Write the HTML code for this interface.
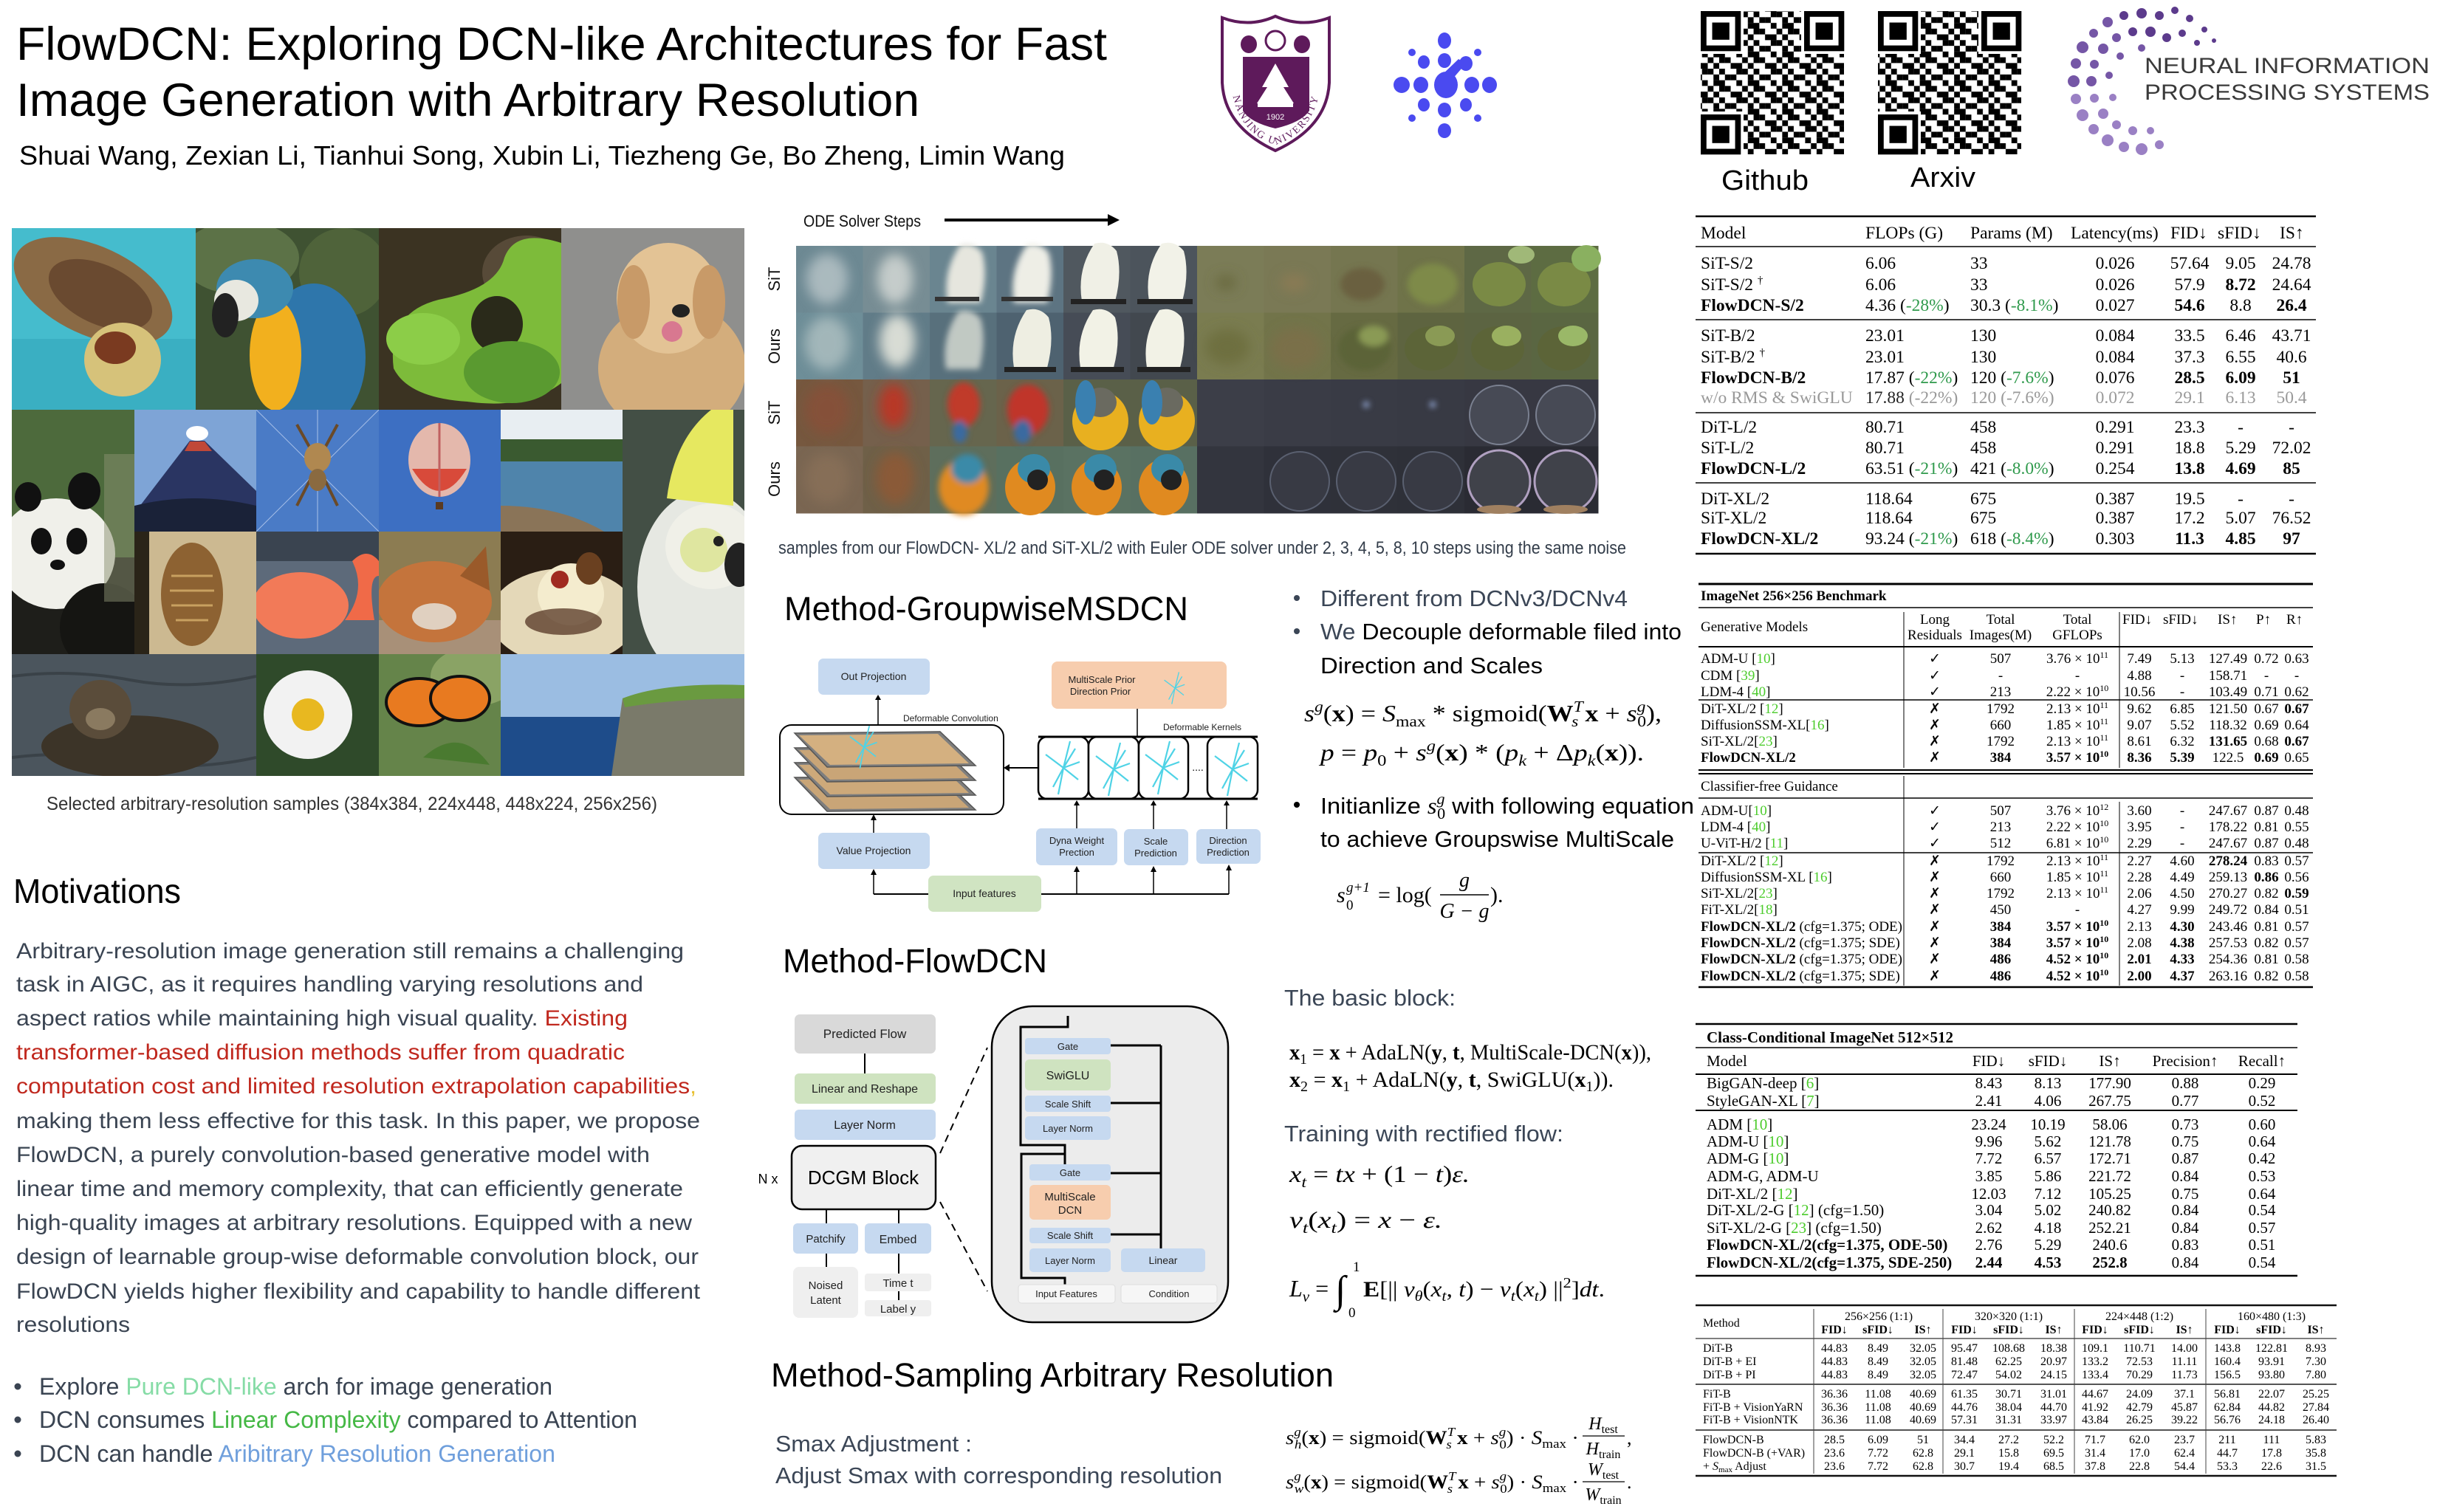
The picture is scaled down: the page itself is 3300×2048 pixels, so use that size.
<!DOCTYPE html>
<html><head><meta charset="utf-8">
<style>
html,body{margin:0;padding:0;background:#fff;}
svg{display:block;}
.s{font-family:"Liberation Sans",Arial,"DejaVu Sans",sans-serif;}
.t{font-family:"Liberation Serif","Times New Roman","DejaVu Serif",serif;}
</style></head><body>
<svg width="3300" height="2048" viewBox="0 0 3300 2048" xmlns="http://www.w3.org/2000/svg">
<defs>
<filter id="b8" x="-50%" y="-50%" width="200%" height="200%"><feGaussianBlur stdDeviation="8"/></filter>
<filter id="b4" x="-50%" y="-50%" width="200%" height="200%"><feGaussianBlur stdDeviation="4"/></filter>
<pattern id="qr" x="0" y="0" width="46.56" height="38.8" patternUnits="userSpaceOnUse">
<rect width="46.56" height="38.8" fill="#fff"/>
<g fill="#000">
<rect x="0" y="0" width="7.8" height="7.8"/><rect x="7.76" y="0" width="7.8" height="7.8"/><rect x="31.04" y="0" width="7.8" height="7.8"/>
<rect x="15.52" y="7.76" width="7.8" height="7.8"/><rect x="23.28" y="7.76" width="7.8" height="7.8"/><rect x="38.8" y="7.76" width="7.8" height="7.8"/>
<rect x="0" y="15.52" width="7.8" height="7.8"/><rect x="23.28" y="15.52" width="7.8" height="7.8"/><rect x="31.04" y="15.52" width="7.8" height="7.8"/>
<rect x="7.76" y="23.28" width="7.8" height="7.8"/><rect x="15.52" y="23.28" width="7.8" height="7.8"/><rect x="38.8" y="23.28" width="7.8" height="7.8"/>
<rect x="0" y="31.04" width="7.8" height="7.8"/><rect x="23.28" y="31.04" width="7.8" height="7.8"/><rect x="38.8" y="31.04" width="7.8" height="7.8"/>
</g>
</pattern>
<g id="finder">
<rect x="-4" y="-4" width="62" height="62" fill="#fff"/>
<rect x="0" y="0" width="54.3" height="54.3" fill="#000"/>
<rect x="7.76" y="7.76" width="38.8" height="38.8" fill="#fff"/>
<rect x="15.52" y="15.52" width="23.3" height="23.3" fill="#000"/>
</g>
<g id="kstar" stroke="#4fd3e6" stroke-width="2.2" fill="none">
<line x1="0" y1="0" x2="9" y2="-36"/><line x1="0" y1="0" x2="-7" y2="36"/>
<line x1="0" y1="0" x2="-24" y2="-18"/><line x1="0" y1="0" x2="20" y2="16"/>
<line x1="0" y1="0" x2="16" y2="-26"/><line x1="0" y1="0" x2="-14" y2="26"/>
<line x1="0" y1="0" x2="22" y2="-8"/>
</g>
<path id="fan" d="M-25,38 Q-32,-5 -8,-40 Q10,-45 22,-30 Q30,0 20,38 Z"/>
</defs>
<rect width="3300" height="2048" fill="#fff"/>

<!-- ===== HEADER ===== -->
<g class="s" fill="#000">
<text x="22" y="81" font-size="63" textLength="1477" lengthAdjust="spacingAndGlyphs">FlowDCN: Exploring DCN-like Architectures for Fast</text>
<text x="22" y="157" font-size="63" textLength="1223" lengthAdjust="spacingAndGlyphs">Image Generation with Arbitrary Resolution</text>
<text x="26" y="223" font-size="36" textLength="1416" lengthAdjust="spacingAndGlyphs">Shuai Wang, Zexian Li, Tianhui Song, Xubin Li, Tiezheng Ge, Bo Zheng, Limin Wang</text>
</g>

<!-- NJU logo -->
<path d="M1655,24 Q1692,38 1727,22 Q1763,38 1800,24 L1800,112 Q1797,172 1727,204 Q1658,172 1655,112 Z" fill="#fff" stroke="#5e1a5b" stroke-width="4"/>
<path d="M1683,77 L1773,77 L1773,150 Q1762,166 1727,174 Q1693,166 1683,150 Z" fill="#5e1a5b"/>
<path d="M1727,86 L1745,118 L1738,118 L1752,140 L1702,140 L1716,118 L1709,118 Z" fill="#fff"/>
<rect x="1703" y="140" width="48" height="5" fill="#fff"/>
<text x="1727" y="162" font-size="11" fill="#fff" text-anchor="middle" class="s">1902</text>
<ellipse cx="1727" cy="55" rx="13" ry="13" fill="none" stroke="#5e1a5b" stroke-width="3"/>
<ellipse cx="1691" cy="60" rx="11" ry="12" fill="#5e1a5b"/>
<ellipse cx="1763" cy="60" rx="11" ry="12" fill="#5e1a5b"/>
<path id="njup" d="M1666,98 Q1668,178 1727,196 Q1786,178 1790,98" fill="none"/>
<text class="t" font-size="14" fill="#5e1a5b" letter-spacing="2"><textPath href="#njup" startOffset="50%" text-anchor="middle">NANJING UNIVERSITY</textPath></text>

<!-- blue logo -->
<g fill="#4a4af0">
<ellipse cx="1958" cy="115" rx="16" ry="18"/>
<ellipse cx="1956" cy="55" rx="9" ry="11"/><ellipse cx="1956" cy="82" rx="9" ry="10"/>
<ellipse cx="1956" cy="149" rx="9" ry="10"/><ellipse cx="1956" cy="177" rx="9" ry="10"/>
<ellipse cx="1898" cy="115" rx="11" ry="11"/><ellipse cx="1924" cy="115" rx="10" ry="11"/>
<ellipse cx="1993" cy="115" rx="10" ry="11"/><ellipse cx="2017" cy="115" rx="10" ry="11"/>
<ellipse cx="1928" cy="84" rx="8" ry="9"/><ellipse cx="1985" cy="86" rx="9" ry="10"/>
<ellipse cx="1928" cy="142" rx="8" ry="9"/><ellipse cx="1985" cy="142" rx="8" ry="9"/>
<path d="M1985,86 L1966,108 L1950,104 L1975,80 Z"/>
<circle cx="1912" cy="71" r="5"/><circle cx="2001" cy="71" r="5"/>
<circle cx="1912" cy="160" r="5"/><circle cx="2001" cy="160" r="5"/>
</g>

<!-- QR codes -->
<rect x="2303" y="15" width="194" height="194" fill="url(#qr)"/>
<use href="#finder" x="2303" y="15"/><use href="#finder" x="2443" y="15"/><use href="#finder" x="2303" y="155"/>
<rect x="2543" y="15" width="194" height="194" fill="url(#qr)"/>
<use href="#finder" x="2543" y="15"/><use href="#finder" x="2683" y="15"/><use href="#finder" x="2543" y="155"/>
<text x="2331" y="257" class="s" font-size="38" textLength="118" lengthAdjust="spacingAndGlyphs">Github</text>
<text x="2587" y="253" class="s" font-size="38" textLength="88" lengthAdjust="spacingAndGlyphs">Arxiv</text>

<!-- NeurIPS -->
<g>
<g fill="#5c3b8c">
<circle cx="2924" cy="21" r="6"/><circle cx="2900" cy="18" r="7"/><circle cx="2876" cy="21" r="6"/>
<circle cx="2945" cy="14" r="5"/><circle cx="2965" cy="25" r="5"/><circle cx="2985" cy="40" r="4"/><circle cx="2998" cy="55" r="3"/>
<circle cx="2955" cy="45" r="5"/><circle cx="2975" cy="58" r="4"/><circle cx="2934" cy="51" r="6"/><circle cx="2912" cy="43" r="7"/><circle cx="2888" cy="43" r="6"/>
</g>
<g fill="#7556a6">
<circle cx="2854" cy="30" r="7"/><circle cx="2835" cy="45" r="6"/><circle cx="2820" cy="64" r="8"/><circle cx="2811" cy="86" r="7"/><circle cx="2808" cy="110" r="8"/>
<circle cx="2866" cy="51" r="6"/><circle cx="2848" cy="66" r="7"/><circle cx="2836" cy="87" r="6"/><circle cx="2832" cy="110" r="7"/>
<circle cx="2900" cy="65" r="5"/><circle cx="2871" cy="76" r="5"/><circle cx="2856" cy="102" r="5"/>
</g>
<g fill="#9a80c4">
<circle cx="2811" cy="134" r="7"/><circle cx="2820" cy="156" r="8"/><circle cx="2835" cy="175" r="7"/><circle cx="2854" cy="190" r="8"/><circle cx="2876" cy="199" r="7"/><circle cx="2900" cy="202" r="8"/><circle cx="2924" cy="196" r="6"/>
<circle cx="2836" cy="133" r="6"/><circle cx="2848" cy="154" r="7"/><circle cx="2866" cy="169" r="6"/><circle cx="2888" cy="177" r="6"/><circle cx="2912" cy="177" r="5"/><circle cx="2861" cy="132" r="5"/>
</g>
<text x="2904" y="99" class="s" font-size="30" fill="#3a3a3a" textLength="386" lengthAdjust="spacingAndGlyphs">NEURAL INFORMATION</text>
<text x="2904" y="135" class="s" font-size="30" fill="#3a3a3a" textLength="386" lengthAdjust="spacingAndGlyphs">PROCESSING SYSTEMS</text>
</g>

<!-- ===== PHOTO GRID ===== -->
<g>
<svg x="16" y="309" width="249" height="246"><rect width="249" height="246" fill="#45bccd"/><rect y="150" width="249" height="96" fill="#36aabd" opacity=".7"/><ellipse cx="110" cy="85" rx="115" ry="60" fill="#8a6a45" transform="rotate(25 110 85)"/><ellipse cx="120" cy="90" rx="75" ry="40" fill="#6a4a30" transform="rotate(25 120 90)"/><ellipse cx="150" cy="178" rx="52" ry="50" fill="#d6c27a"/><ellipse cx="140" cy="162" rx="28" ry="22" fill="#7a3a20"/></svg>
<svg x="265" y="309" width="248" height="246"><rect width="248" height="246" fill="#3f5232"/><ellipse cx="60" cy="40" rx="80" ry="50" fill="#6a8050" opacity=".7"/><ellipse cx="200" cy="60" rx="60" ry="60" fill="#5a7040" opacity=".6"/><ellipse cx="160" cy="175" rx="70" ry="100" fill="#2e76ab"/><ellipse cx="108" cy="172" rx="35" ry="75" fill="#f2b01e"/><ellipse cx="80" cy="82" rx="52" ry="40" fill="#3d8ab0"/><ellipse cx="55" cy="98" rx="30" ry="28" fill="#e8e8e0"/><ellipse cx="40" cy="118" rx="18" ry="30" fill="#222"/></svg>
<svg x="513" y="309" width="247" height="246"><rect width="247" height="246" fill="#3b3322"/><ellipse cx="200" cy="60" rx="60" ry="50" fill="#6a5a48" opacity=".6"/><path d="M20 190 Q10 110 90 95 Q160 80 170 40 Q185 0 247 20 L247 210 Q200 246 120 235 Q40 230 20 190Z" fill="#7dbb3a"/><ellipse cx="160" cy="130" rx="35" ry="38" fill="#2a2a1a"/><ellipse cx="180" cy="195" rx="65" ry="42" fill="#5a9a30"/><ellipse cx="60" cy="150" rx="50" ry="35" fill="#8ccd48"/></svg>
<svg x="760" y="309" width="248" height="246"><rect width="248" height="246" fill="#8f8f8d"/><ellipse cx="150" cy="190" rx="100" ry="90" fill="#d3ad7c"/><ellipse cx="145" cy="95" rx="70" ry="75" fill="#e3c395"/><ellipse cx="98" cy="100" rx="22" ry="50" fill="#c89a68"/><ellipse cx="200" cy="100" rx="22" ry="50" fill="#c89a68"/><ellipse cx="162" cy="112" rx="12" ry="9" fill="#222"/><ellipse cx="150" cy="140" rx="14" ry="14" fill="#d87890"/></svg>
<svg x="16" y="555" width="166" height="331"><rect width="166" height="331" fill="#4d6a3c"/><rect y="200" width="166" height="131" fill="#1e1e1a"/><ellipse cx="60" cy="195" rx="80" ry="75" fill="#f0f0ea"/><ellipse cx="98" cy="110" rx="22" ry="25" fill="#111"/><ellipse cx="22" cy="118" rx="18" ry="20" fill="#111"/><ellipse cx="40" cy="178" rx="14" ry="18" fill="#111"/><ellipse cx="88" cy="178" rx="14" ry="18" fill="#111"/><ellipse cx="62" cy="210" rx="10" ry="7" fill="#111"/><ellipse cx="125" cy="295" rx="60" ry="60" fill="#151512"/><rect x="125" y="60" width="41" height="200" fill="#8a9070" opacity=".5"/></svg>
<svg x="182" y="555" width="165" height="165"><rect width="165" height="165" fill="#7ea4d6"/><path d="M0 140 L75 42 L95 42 L165 110 L165 165 L0 165Z" fill="#2a3562"/><path d="M0 130 Q80 110 165 130 L165 165 L0 165Z" fill="#1a2238"/><ellipse cx="85" cy="32" rx="15" ry="10" fill="#fff"/><path d="M75 43 L95 43 L105 56 L68 56Z" fill="#c04838"/></svg>
<svg x="347" y="555" width="166" height="165"><rect width="166" height="165" fill="#4a7bc6"/><g stroke="#a8c0e8" stroke-width="1"><line x1="0" y1="0" x2="166" y2="165"/><line x1="166" y1="0" x2="0" y2="165"/><line x1="83" y1="0" x2="83" y2="165"/></g><g stroke="#6a4a28" stroke-width="4"><line x1="83" y1="70" x2="55" y2="20"/><line x1="83" y1="70" x2="110" y2="20"/><line x1="83" y1="75" x2="55" y2="130"/><line x1="83" y1="75" x2="110" y2="130"/></g><ellipse cx="83" cy="65" rx="18" ry="20" fill="#b08850"/><ellipse cx="83" cy="95" rx="12" ry="15" fill="#8a6a40"/></svg>
<svg x="513" y="555" width="165" height="165"><rect width="165" height="165" fill="#3d6fc2"/><ellipse cx="82" cy="68" rx="42" ry="50" fill="#e4b8ac"/><path d="M45 80 Q82 140 119 80Z" fill="#d84a3a"/><line x1="82" y1="18" x2="82" y2="118" stroke="#c06060" stroke-width="3"/><rect x="77" y="125" width="10" height="10" fill="#5a3a20"/></svg>
<svg x="678" y="555" width="165" height="165"><rect width="165" height="165" fill="#e8eef2"/><rect y="40" width="165" height="30" fill="#3a5a30"/><rect y="70" width="165" height="95" fill="#4f84ab"/><path d="M0 130 Q80 130 140 165 L0 165Z" fill="#8a7458"/></svg>
<svg x="843" y="555" width="165" height="331"><rect width="165" height="331" fill="#434f45"/><ellipse cx="110" cy="240" rx="90" ry="130" fill="#e6e8e2"/><ellipse cx="120" cy="185" rx="62" ry="58" fill="#f0f0e8"/><ellipse cx="110" cy="190" rx="32" ry="30" fill="#dfe6a0"/><path d="M60 120 Q70 40 120 0 L150 0 L150 130Z" fill="#e6e860"/><ellipse cx="158" cy="210" rx="20" ry="30" fill="#222"/><circle cx="130" cy="178" r="7" fill="#222"/></svg>
<svg x="182" y="720" width="165" height="166"><rect width="165" height="166" fill="#ccb991"/><rect width="20" height="166" fill="#2a2418"/><ellipse cx="78" cy="85" rx="42" ry="70" fill="#8d6232"/><g stroke="#c8a060" stroke-width="3"><line x1="50" y1="60" x2="106" y2="60"/><line x1="48" y1="80" x2="108" y2="80"/><line x1="50" y1="100" x2="106" y2="100"/><line x1="56" y1="120" x2="100" y2="120"/></g></svg>
<svg x="347" y="720" width="166" height="166"><rect width="166" height="166" fill="#5d6a7a"/><rect width="166" height="40" fill="#3a4450"/><ellipse cx="60" cy="100" rx="65" ry="45" fill="#f27a58"/><path d="M120 120 Q150 80 130 40 Q150 20 166 40 L166 60 Q150 60 160 120 Z" fill="#f06a48"/></svg>
<svg x="513" y="720" width="165" height="166"><rect width="165" height="166" fill="#8c7c52"/><rect y="120" width="165" height="46" fill="#a89078"/><ellipse cx="75" cy="95" rx="78" ry="55" fill="#c4743c"/><ellipse cx="75" cy="115" rx="30" ry="18" fill="#e0d0c0"/><path d="M110 60 L145 20 L150 80Z" fill="#9a5a2a"/></svg>
<svg x="678" y="720" width="165" height="166"><rect width="165" height="166" fill="#2a1e14"/><ellipse cx="85" cy="115" rx="100" ry="65" fill="#e4d8b8"/><ellipse cx="95" cy="85" rx="45" ry="42" fill="#f4ecce"/><ellipse cx="85" cy="122" rx="52" ry="18" fill="#4a2a18" opacity=".7"/><circle cx="80" cy="65" r="12" fill="#a02a20"/><ellipse cx="120" cy="50" rx="18" ry="22" fill="#6a4020"/></svg>
<svg x="16" y="886" width="331" height="165"><rect width="331" height="165" fill="#4b555d"/><g stroke="#3a4248" stroke-width="4" fill="none"><path d="M0 30 Q80 20 160 35 T331 30"/><path d="M0 140 Q80 130 160 145 T331 140"/></g><ellipse cx="160" cy="125" rx="120" ry="42" fill="#3c3428"/><ellipse cx="120" cy="75" rx="42" ry="40" fill="#5a4c3a"/><ellipse cx="120" cy="88" rx="20" ry="15" fill="#8a7a60"/></svg>
<svg x="347" y="886" width="166" height="165"><rect width="166" height="165" fill="#2f4a2a"/><circle cx="70" cy="82" r="60" fill="#f2f2f2"/><circle cx="70" cy="82" r="22" fill="#e8b820"/></svg>
<svg x="513" y="886" width="165" height="165"><rect width="165" height="165" fill="#65844a"/><ellipse cx="130" cy="30" rx="60" ry="40" fill="#9ab070" opacity=".7"/><ellipse cx="55" cy="65" rx="45" ry="32" fill="#e87a20" stroke="#111" stroke-width="4"/><ellipse cx="110" cy="60" rx="40" ry="30" fill="#e87a20" stroke="#111" stroke-width="4"/><path d="M60 140 Q110 95 150 150Z" fill="#4a7a30"/></svg>
<svg x="678" y="886" width="330" height="165"><rect width="330" height="165" fill="#9bbde2"/><rect y="85" width="330" height="80" fill="#1e4c8a"/><path d="M150 165 L165 60 Q220 40 330 45 L330 165Z" fill="#7a7a6a"/><path d="M165 60 Q220 38 330 42 L330 60 Q240 60 168 72Z" fill="#6a9a40"/></svg>
</g>
<text x="63" y="1097" class="s" font-size="25" fill="#333" textLength="827" lengthAdjust="spacingAndGlyphs">Selected arbitrary-resolution samples (384x384, 224x448, 448x224, 256x256)</text>

<!-- ===== MOTIVATIONS ===== -->
<text x="18" y="1223" class="s" font-size="46" fill="#000" textLength="227" lengthAdjust="spacingAndGlyphs">Motivations</text>
<g class="s" font-size="30" fill="#3a4452">
<text x="22" y="1298" textLength="904" lengthAdjust="spacingAndGlyphs">Arbitrary-resolution image generation still remains a challenging</text>
<text x="22" y="1343" textLength="849" lengthAdjust="spacingAndGlyphs">task in AIGC, as it requires handling varying resolutions and</text>
<text x="22" y="1389" textLength="828" lengthAdjust="spacingAndGlyphs">aspect ratios while maintaining high visual quality. <tspan fill="#c0281e">Existing</tspan></text>
<text x="22" y="1435" textLength="824" lengthAdjust="spacingAndGlyphs" fill="#c0281e">transformer-based diffusion methods suffer from quadratic</text>
<text x="22" y="1481" textLength="921" lengthAdjust="spacingAndGlyphs"><tspan fill="#c0281e">computation cost and limited resolution extrapolation capabilities</tspan><tspan fill="#e8c030">,</tspan></text>
<text x="22" y="1528" textLength="926" lengthAdjust="spacingAndGlyphs">making them less effective for this task. In this paper, we propose</text>
<text x="22" y="1574" textLength="858" lengthAdjust="spacingAndGlyphs">FlowDCN, a purely convolution-based generative model with</text>
<text x="22" y="1620" textLength="903" lengthAdjust="spacingAndGlyphs">linear time and memory complexity, that can efficiently generate</text>
<text x="22" y="1666" textLength="915" lengthAdjust="spacingAndGlyphs">high-quality images at arbitrary resolutions. Equipped with a new</text>
<text x="22" y="1712" textLength="924" lengthAdjust="spacingAndGlyphs">design of learnable group-wise deformable convolution block, our</text>
<text x="22" y="1759" textLength="926" lengthAdjust="spacingAndGlyphs">FlowDCN yields higher flexibility and capability to handle different</text>
<text x="22" y="1804" textLength="154" lengthAdjust="spacingAndGlyphs">resolutions</text>
</g>
<g class="s" font-size="32" fill="#3a4452">
<circle cx="24" cy="1878" r="4.5" fill="#3a4452"/><circle cx="24" cy="1923" r="4.5" fill="#3a4452"/><circle cx="24" cy="1969" r="4.5" fill="#3a4452"/>
<text x="53" y="1889" textLength="695" lengthAdjust="spacingAndGlyphs">Explore <tspan fill="#86dca6">Pure DCN-like</tspan> arch for image generation</text>
<text x="53" y="1934" textLength="810" lengthAdjust="spacingAndGlyphs">DCN consumes <tspan fill="#45b845">Linear Complexity</tspan> compared to Attention</text>
<text x="53" y="1980" textLength="699" lengthAdjust="spacingAndGlyphs">DCN can handle <tspan fill="#6f9fdc">Aribitrary Resolution Generation</tspan></text>
</g>

<!-- ===== ODE SAMPLES ===== -->
<text x="1088" y="307" class="s" font-size="22" fill="#111" textLength="159" lengthAdjust="spacingAndGlyphs">ODE Solver Steps</text>
<line x1="1279" y1="298" x2="1502" y2="298" stroke="#000" stroke-width="4"/>
<path d="M1500,290 L1516,298 L1500,306 Z" fill="#000"/>
<g class="s" font-size="22" fill="#111" text-anchor="middle">
<text transform="translate(1056,378) rotate(-90)">SiT</text>
<text transform="translate(1056,469) rotate(-90)">Ours</text>
<text transform="translate(1056,559) rotate(-90)">SiT</text>
<text transform="translate(1056,649) rotate(-90)">Ours</text>
</g>
<g>
<rect x="1078" y="333" width="91" height="91" fill="#6d8993"/><rect x="1168.5" y="333" width="91" height="91" fill="#778d94"/><rect x="1259" y="333" width="91" height="91" fill="#6a8590"/><rect x="1349.5" y="333" width="91" height="91" fill="#5d7482"/><rect x="1440" y="333" width="91" height="91" fill="#50585f"/><rect x="1530.5" y="333" width="91" height="91" fill="#4c545c"/>
<rect x="1621" y="333" width="91" height="91" fill="#7b7c57"/><rect x="1711.5" y="333" width="91" height="91" fill="#7a7955"/><rect x="1802" y="333" width="91" height="91" fill="#757650"/><rect x="1892.5" y="333" width="91" height="91" fill="#6f7349"/><rect x="1983" y="333" width="91" height="91" fill="#5e6845"/><rect x="2073.5" y="333" width="91" height="91" fill="#5d6c42"/>
<rect x="1078" y="423.5" width="91" height="91" fill="#6e8e98"/><rect x="1168.5" y="423.5" width="91" height="91" fill="#617c88"/><rect x="1259" y="423.5" width="91" height="91" fill="#58707c"/><rect x="1349.5" y="423.5" width="91" height="91" fill="#4e6270"/><rect x="1440" y="423.5" width="91" height="91" fill="#464c56"/><rect x="1530.5" y="423.5" width="91" height="91" fill="#42484f"/>
<rect x="1621" y="423.5" width="91" height="91" fill="#7a7c50"/><rect x="1711.5" y="423.5" width="91" height="91" fill="#72744a"/><rect x="1802" y="423.5" width="91" height="91" fill="#666a42"/><rect x="1892.5" y="423.5" width="91" height="91" fill="#5e6440"/><rect x="1983" y="423.5" width="91" height="91" fill="#5c6442"/><rect x="2073.5" y="423.5" width="91" height="91" fill="#5a6642"/>
<rect x="1078" y="514" width="91" height="91" fill="#76583f"/><rect x="1168.5" y="514" width="91" height="91" fill="#75604c"/><rect x="1259" y="514" width="91" height="91" fill="#66664e"/><rect x="1349.5" y="514" width="91" height="91" fill="#6b624a"/><rect x="1440" y="514" width="91" height="91" fill="#5a6048"/><rect x="1530.5" y="514" width="91" height="91" fill="#5a6048"/>
<rect x="1621" y="514" width="91" height="91" fill="#3c3e48"/><rect x="1711.5" y="514" width="91" height="91" fill="#3a3c46"/><rect x="1802" y="514" width="91" height="91" fill="#393b45"/><rect x="1892.5" y="514" width="91" height="91" fill="#383a44"/><rect x="1983" y="514" width="91" height="91" fill="#373842"/><rect x="2073.5" y="514" width="91" height="91" fill="#373842"/>
<rect x="1078" y="604.5" width="91" height="91" fill="#7a6652"/><rect x="1168.5" y="604.5" width="91" height="91" fill="#6f6048"/><rect x="1259" y="604.5" width="91" height="91" fill="#5e6e5c"/><rect x="1349.5" y="604.5" width="91" height="91" fill="#587060"/><rect x="1440" y="604.5" width="91" height="91" fill="#5a7262"/><rect x="1530.5" y="604.5" width="91" height="91" fill="#587062"/>
<rect x="1621" y="604.5" width="91" height="91" fill="#33353e"/><rect x="1711.5" y="604.5" width="91" height="91" fill="#2f313a"/><rect x="1802" y="604.5" width="91" height="91" fill="#2f3139"/><rect x="1892.5" y="604.5" width="91" height="91" fill="#2e3038"/><rect x="1983" y="604.5" width="91" height="91" fill="#2a2b33"/><rect x="2073.5" y="604.5" width="91" height="91" fill="#2a2b33"/>
</g>
<g filter="url(#b8)">
<ellipse cx="1120" cy="378" rx="28" ry="34" fill="#c5cfd0" opacity=".7"/>
<ellipse cx="1212" cy="378" rx="24" ry="34" fill="#d8dcd8" opacity=".8"/>
<ellipse cx="1660" cy="383" rx="14" ry="10" fill="#6a6a40"/>
<ellipse cx="1752" cy="383" rx="18" ry="12" fill="#8a7a55"/>
<ellipse cx="1120" cy="465" rx="30" ry="36" fill="#b8c8c8" opacity=".7"/>
<ellipse cx="1215" cy="462" rx="24" ry="36" fill="#d8dcd4"/>
<ellipse cx="1662" cy="470" rx="30" ry="24" fill="#6e7040"/>
<ellipse cx="1755" cy="472" rx="34" ry="28" fill="#7a7048"/>
<ellipse cx="1120" cy="555" rx="30" ry="34" fill="#8a5038" opacity=".8"/>
<ellipse cx="1210" cy="550" rx="20" ry="30" fill="#b83828"/>
<ellipse cx="1120" cy="648" rx="30" ry="34" fill="#8a7058" opacity=".8"/>
<ellipse cx="1212" cy="648" rx="26" ry="36" fill="#8a5a38"/>
</g>
<g filter="url(#b4)">
<use href="#fan" x="1308" y="372" fill="#e6e6de"/>
<use href="#fan" x="1398" y="372" fill="#eeeee6"/>
<ellipse cx="1845" cy="385" rx="30" ry="22" fill="#6a6040"/>
<ellipse cx="1940" cy="385" rx="34" ry="28" fill="#7e8a48"/>
<use href="#fan" x="1306" y="462" fill="#d4d8d0" opacity=".85"/>
<ellipse cx="1848" cy="472" rx="36" ry="30" fill="#5c6438"/><ellipse cx="1860" cy="455" rx="20" ry="14" fill="#8a9a55"/>
<ellipse cx="1305" cy="548" rx="22" ry="30" fill="#c03a2a"/><ellipse cx="1300" cy="585" rx="10" ry="15" fill="#3a6aa0"/>
<ellipse cx="1392" cy="555" rx="28" ry="34" fill="#c0362a"/><ellipse cx="1385" cy="585" rx="12" ry="16" fill="#3a6aa0"/>
<circle cx="1850" cy="548" r="4" fill="#9ab0e0"/><circle cx="1940" cy="548" r="4" fill="#9ab0e0"/>
<ellipse cx="1305" cy="660" rx="34" ry="38" fill="#e08a20"/><ellipse cx="1310" cy="635" rx="22" ry="20" fill="#3a8aa8"/>
</g>
<g>
<rect x="1266" y="402" width="60" height="6" fill="#333"/><rect x="1356" y="402" width="70" height="6" fill="#333"/>
<use href="#fan" x="1490" y="370" fill="#f0f0e6"/><rect x="1450" y="405" width="75" height="7" fill="#222"/>
<use href="#fan" x="1581" y="370" fill="#f2f2e8"/><rect x="1540" y="405" width="75" height="7" fill="#222"/>
<ellipse cx="2030" cy="385" rx="36" ry="30" fill="#7a8a45"/><ellipse cx="2060" cy="345" rx="18" ry="12" fill="#a0b878"/>
<ellipse cx="2118" cy="385" rx="36" ry="30" fill="#7a8a45"/><ellipse cx="2148" cy="350" rx="20" ry="18" fill="#8ab060"/>
<use href="#fan" x="1398" y="460" fill="#eeeee2"/><rect x="1360" y="497" width="70" height="7" fill="#222"/>
<use href="#fan" x="1488" y="460" fill="#f2f2e6"/><rect x="1450" y="497" width="72" height="7" fill="#222"/>
<use href="#fan" x="1578" y="460" fill="#f2f2e6"/><rect x="1540" y="497" width="72" height="7" fill="#222"/>
<ellipse cx="1938" cy="472" rx="36" ry="30" fill="#5c6438"/><ellipse cx="1950" cy="455" rx="20" ry="14" fill="#8a9a55"/>
<ellipse cx="2028" cy="472" rx="36" ry="30" fill="#5c6438"/><ellipse cx="2040" cy="455" rx="20" ry="14" fill="#9ab060"/>
<ellipse cx="2118" cy="472" rx="36" ry="30" fill="#5c6438"/><ellipse cx="2130" cy="455" rx="20" ry="14" fill="#9ab868"/>
<ellipse cx="1490" cy="570" rx="38" ry="40" fill="#e8b020"/><ellipse cx="1490" cy="545" rx="22" ry="20" fill="#6a6a60"/><ellipse cx="1470" cy="545" rx="14" ry="30" fill="#3a80b0"/>
<ellipse cx="1580" cy="570" rx="38" ry="40" fill="#e8b020"/><ellipse cx="1580" cy="545" rx="22" ry="20" fill="#6a6a60"/><ellipse cx="1560" cy="545" rx="14" ry="30" fill="#3a80b0"/>
<circle cx="2030" cy="562" r="40" fill="#474a55" stroke="#7a8090" stroke-width="2"/>
<circle cx="2120" cy="562" r="40" fill="#474a55" stroke="#7a8090" stroke-width="2"/>
<ellipse cx="1395" cy="660" rx="34" ry="38" fill="#e08a20"/><ellipse cx="1400" cy="635" rx="22" ry="20" fill="#3a8aa8"/><ellipse cx="1405" cy="650" rx="14" ry="14" fill="#222"/>
<ellipse cx="1485" cy="660" rx="34" ry="38" fill="#e08a20"/><ellipse cx="1490" cy="635" rx="22" ry="20" fill="#3a8aa8"/><ellipse cx="1495" cy="650" rx="14" ry="14" fill="#222"/>
<ellipse cx="1576" cy="660" rx="34" ry="38" fill="#e08a20"/><ellipse cx="1581" cy="635" rx="22" ry="20" fill="#3a8aa8"/><ellipse cx="1586" cy="650" rx="14" ry="14" fill="#222"/>
<circle cx="1760" cy="652" r="40" fill="#383a44" stroke="#5a6070" stroke-width="2"/>
<circle cx="1850" cy="652" r="40" fill="#383a44" stroke="#5a6070" stroke-width="2"/>
<circle cx="1940" cy="652" r="40" fill="#383a44" stroke="#5a6070" stroke-width="2"/>
<circle cx="2030" cy="652" r="42" fill="#40424a" stroke="#b0a0c0" stroke-width="3"/><ellipse cx="2030" cy="690" rx="30" ry="6" fill="#a08060"/>
<circle cx="2120" cy="652" r="42" fill="#40424a" stroke="#b0a0c0" stroke-width="3"/><ellipse cx="2120" cy="690" rx="30" ry="6" fill="#a08060"/>
</g>
<text x="1054" y="750" class="s" font-size="24" fill="#333d4a" textLength="1148" lengthAdjust="spacingAndGlyphs">samples from our FlowDCN- XL/2 and SiT-XL/2 with Euler ODE solver under 2, 3, 4, 5, 8, 10 steps using the same noise</text>

<!-- ===== METHOD GROUPWISE ===== -->
<text x="1062" y="840" class="s" font-size="45" fill="#000" textLength="547" lengthAdjust="spacingAndGlyphs">Method-GroupwiseMSDCN</text>
<g class="s">
<rect x="1108" y="892" width="151" height="49" rx="7" fill="#c6d9f0"/>
<text x="1183" y="921" font-size="14" text-anchor="middle" fill="#222">Out Projection</text>
<rect x="1424" y="896" width="237" height="64" rx="8" fill="#f7cdae"/>
<text x="1492" y="925" font-size="13" text-anchor="middle" fill="#222">MultiScale Prior</text>
<text x="1490" y="941" font-size="13" text-anchor="middle" fill="#222">Direction Prior</text>
<g transform="translate(1591,932) scale(0.6)"><use href="#kstar"/></g>
<line x1="1189" y1="982" x2="1189" y2="947" stroke="#000" stroke-width="1.5"/><path d="M1185,948 L1189,941 L1193,948Z" fill="#000"/>
<text x="1223" y="977" font-size="12" fill="#222">Deformable Convolution</text>
<rect x="1056" y="982" width="303" height="121" rx="16" fill="#fff" stroke="#000" stroke-width="2"/>
<g stroke="#555" stroke-width="1.5">
<path d="M1076,1053 L1273,1051 L1321,1097 L1120,1099Z" fill="#7e7e7e"/>
<path d="M1082,1056 L1270,1054 L1312,1094 L1124,1096Z" fill="#c9a577" stroke="none"/>
<path d="M1076,1033 L1273,1031 L1321,1077 L1120,1079Z" fill="#7e7e7e"/>
<path d="M1082,1036 L1270,1034 L1312,1074 L1124,1076Z" fill="#cda97a" stroke="none"/>
<path d="M1076,1013 L1273,1011 L1321,1057 L1120,1059Z" fill="#7e7e7e"/>
<path d="M1082,1016 L1270,1014 L1312,1054 L1124,1056Z" fill="#c9a577" stroke="none"/>
<path d="M1076,993 L1273,991 L1321,1037 L1120,1039Z" fill="#7e7e7e"/>
<path d="M1082,996 L1270,994 L1312,1034 L1124,1036Z" fill="#d4b080" stroke="none"/>
</g>
<g transform="translate(1170,1012) scale(0.8)"><use href="#kstar"/></g>
<line x1="1540" y1="960" x2="1540" y2="998" stroke="#000" stroke-width="1.5"/>
<text x="1575" y="989" font-size="12" fill="#222">Deformable Kernels</text>
<g fill="#fff" stroke="#000" stroke-width="2.5">
<rect x="1406" y="998" width="68" height="84" rx="12"/>
<rect x="1474" y="998" width="68" height="84" rx="12"/>
<rect x="1542" y="998" width="67" height="84" rx="12"/>
<rect x="1635" y="998" width="68" height="84" rx="12"/>
</g>
<line x1="1406" y1="998" x2="1703" y2="998" stroke="#000" stroke-width="3"/>
<line x1="1406" y1="1082" x2="1703" y2="1082" stroke="#000" stroke-width="3"/>
<use href="#kstar" x="1440" y="1040"/><use href="#kstar" x="1508" y="1042"/><use href="#kstar" x="1575" y="1040"/><use href="#kstar" x="1669" y="1042"/>
<text x="1622" y="1044" font-size="14" text-anchor="middle" fill="#000">....</text>
<line x1="1406" y1="1040" x2="1366" y2="1040" stroke="#000" stroke-width="2"/><path d="M1367,1035 L1359,1040 L1367,1045Z" fill="#000"/>
<rect x="1108" y="1128" width="151" height="49" rx="7" fill="#c6d9f0"/>
<text x="1183" y="1157" font-size="14" text-anchor="middle" fill="#222">Value Projection</text>
<line x1="1183" y1="1128" x2="1183" y2="1110" stroke="#000" stroke-width="1.5"/><path d="M1179,1111 L1183,1103 L1187,1111Z" fill="#000"/>
<rect x="1403" y="1122" width="110" height="50" rx="7" fill="#c6d9f0"/>
<text x="1458" y="1143" font-size="13" text-anchor="middle" fill="#222">Dyna Weight</text>
<text x="1458" y="1159" font-size="13" text-anchor="middle" fill="#222">Prection</text>
<rect x="1522" y="1123" width="87" height="49" rx="7" fill="#c6d9f0"/>
<text x="1565" y="1144" font-size="13" text-anchor="middle" fill="#222">Scale</text>
<text x="1565" y="1160" font-size="13" text-anchor="middle" fill="#222">Prediction</text>
<rect x="1620" y="1123" width="87" height="47" rx="7" fill="#c6d9f0"/>
<text x="1663" y="1143" font-size="13" text-anchor="middle" fill="#222">Direction</text>
<text x="1663" y="1159" font-size="13" text-anchor="middle" fill="#222">Prediction</text>
<g stroke="#000" stroke-width="1.5">
<line x1="1458" y1="1122" x2="1458" y2="1090"/><line x1="1562" y1="1123" x2="1562" y2="1090"/><line x1="1661" y1="1123" x2="1661" y2="1090"/>
<line x1="1183" y1="1211" x2="1664" y2="1211" stroke-width="2"/>
<line x1="1183" y1="1211" x2="1183" y2="1184"/><line x1="1458" y1="1211" x2="1458" y2="1180"/><line x1="1562" y1="1211" x2="1562" y2="1180"/><line x1="1664" y1="1211" x2="1664" y2="1178"/>
</g>
<g fill="#000"><path d="M1454,1091 L1458,1084 L1462,1091Z"/><path d="M1558,1091 L1562,1084 L1566,1091Z"/><path d="M1657,1091 L1661,1084 L1665,1091Z"/><path d="M1179,1185 L1183,1177 L1187,1185Z"/><path d="M1454,1181 L1458,1173 L1462,1181Z"/><path d="M1558,1181 L1562,1173 L1566,1181Z"/><path d="M1660,1179 L1664,1171 L1668,1179Z"/></g>
<rect x="1257" y="1186" width="153" height="49" rx="7" fill="#d0e4c2"/>
<text x="1333" y="1215" font-size="14" text-anchor="middle" fill="#222">Input features</text>
</g>
<g class="s">
<circle cx="1756" cy="810" r="4" fill="#3b4656"/><circle cx="1756" cy="855" r="4" fill="#3b4656"/><circle cx="1756" cy="1090" r="4" fill="#000"/>
<text x="1788" y="821" font-size="31" fill="#3b4656" textLength="416" lengthAdjust="spacingAndGlyphs">Different from DCNv3/DCNv4</text>
<text x="1788" y="866" font-size="31" fill="#000" textLength="489" lengthAdjust="spacingAndGlyphs"><tspan fill="#3b4656">We</tspan> Decouple deformable filed into</text>
<text x="1788" y="912" font-size="31" fill="#000" textLength="301" lengthAdjust="spacingAndGlyphs">Direction  and Scales</text>
</g>
<text x="1766" y="977" class="t" font-size="32" fill="#000" textLength="484" lengthAdjust="spacingAndGlyphs"><tspan font-style="italic">s</tspan><tspan font-style="italic" font-size="21" dy="-13">g</tspan><tspan dy="13">(</tspan><tspan font-weight="bold">x</tspan>) = <tspan font-style="italic">S</tspan><tspan font-size="21" dy="7">max</tspan><tspan dy="-7"> * sigmoid(</tspan><tspan font-weight="bold">W</tspan><tspan font-style="italic" font-size="21" dy="-13">T</tspan><tspan font-style="italic" font-size="21" dx="-12" dy="20">s</tspan><tspan dy="-7" font-weight="bold"> x</tspan> + <tspan font-style="italic">s</tspan><tspan font-style="italic" font-size="21" dy="-13">g</tspan><tspan font-size="21" dx="-10" dy="20">0</tspan><tspan dy="-7">),</tspan></text>
<text x="1788" y="1030" class="t" font-size="32" fill="#000" textLength="438" lengthAdjust="spacingAndGlyphs"><tspan font-style="italic">p</tspan> = <tspan font-style="italic">p</tspan><tspan font-size="21" dy="7">0</tspan><tspan dy="-7"> + </tspan><tspan font-style="italic">s</tspan><tspan font-style="italic" font-size="21" dy="-13">g</tspan><tspan dy="13">(</tspan><tspan font-weight="bold">x</tspan>) * (<tspan font-style="italic">p</tspan><tspan font-style="italic" font-size="21" dy="7">k</tspan><tspan dy="-7"> + Δ</tspan><tspan font-style="italic">p</tspan><tspan font-style="italic" font-size="21" dy="7">k</tspan><tspan dy="-7">(</tspan><tspan font-weight="bold">x</tspan>)).</text>
<text x="1788" y="1102" class="s" font-size="31" fill="#000" textLength="506" lengthAdjust="spacingAndGlyphs">Initianlize <tspan class="t" font-style="italic">s</tspan><tspan class="t" font-style="italic" font-size="21" dy="-13">g</tspan><tspan class="t" font-size="21" dx="-10" dy="20">0</tspan><tspan dy="-7"> with following equation</tspan></text>
<text x="1788" y="1147" class="s" font-size="31" fill="#000" textLength="479" lengthAdjust="spacingAndGlyphs">to achieve Groupswise MultiScale</text>
<g class="t" fill="#000">
<text x="1810" y="1222" font-size="30" font-style="italic">s</text>
<text x="1823" y="1208" font-size="19" font-style="italic">g+1</text>
<text x="1823" y="1232" font-size="19">0</text>
<text x="1866" y="1222" font-size="30">= log(</text>
<text x="1983" y="1201" font-size="28" font-style="italic" text-anchor="middle">g</text>
<line x1="1950" y1="1212" x2="2016" y2="1212" stroke="#000" stroke-width="1.5"/>
<text x="1983" y="1243" font-size="28" font-style="italic" text-anchor="middle">G − g</text>
<text x="2018" y="1222" font-size="30">).</text>
</g>

<!-- ===== METHOD FLOWDCN ===== -->
<text x="1060" y="1317" class="s" font-size="45" fill="#000" textLength="358" lengthAdjust="spacingAndGlyphs">Method-FlowDCN</text>
<g class="s" fill="#222" text-anchor="middle">
<rect x="1076" y="1374" width="191" height="53" rx="7" fill="#d9d9d9"/>
<text x="1171" y="1406" font-size="17">Predicted Flow</text>
<line x1="1171" y1="1427" x2="1171" y2="1454" stroke="#000" stroke-width="2"/>
<rect x="1076" y="1454" width="191" height="41" rx="6" fill="#cfe3c0"/>
<text x="1171" y="1480" font-size="16">Linear and Reshape</text>
<rect x="1076" y="1503" width="191" height="41" rx="6" fill="#c6d9f0"/>
<text x="1171" y="1529" font-size="16">Layer Norm</text>
<rect x="1072" y="1552" width="195" height="86" rx="14" fill="#f0f0f0" stroke="#000" stroke-width="2.5"/>
<text x="1169" y="1604" font-size="26" fill="#000">DCGM Block</text>
<text x="1040" y="1603" font-size="18" fill="#000">N x</text>
<line x1="1119" y1="1638" x2="1119" y2="1657" stroke="#000" stroke-width="2"/>
<line x1="1217" y1="1638" x2="1217" y2="1657" stroke="#000" stroke-width="2"/>
<rect x="1074" y="1657" width="88" height="41" rx="6" fill="#c6d9f0"/>
<text x="1118" y="1683" font-size="15">Patchify</text>
<rect x="1171" y="1657" width="90" height="41" rx="6" fill="#c6d9f0"/>
<text x="1216" y="1684" font-size="16">Embed</text>
<line x1="1119" y1="1698" x2="1119" y2="1716" stroke="#000" stroke-width="2"/>
<line x1="1217" y1="1698" x2="1217" y2="1725" stroke="#000" stroke-width="2"/>
<rect x="1074" y="1716" width="88" height="69" rx="8" fill="#efefef"/>
<text x="1118" y="1746" font-size="15">Noised</text>
<text x="1118" y="1766" font-size="15">Latent</text>
<rect x="1171" y="1725" width="90" height="24" rx="4" fill="#efefef"/>
<text x="1216" y="1743" font-size="15">Time t</text>
<line x1="1217" y1="1749" x2="1217" y2="1761" stroke="#000" stroke-width="2"/>
<rect x="1171" y="1761" width="90" height="22" rx="4" fill="#efefef"/>
<text x="1216" y="1778" font-size="15">Label y</text>
<line x1="1273" y1="1562" x2="1337" y2="1419" stroke="#000" stroke-width="2" stroke-dasharray="10 7"/>
<line x1="1273" y1="1628" x2="1337" y2="1749" stroke="#000" stroke-width="2" stroke-dasharray="10 7"/>
<rect x="1343" y="1363" width="320" height="428" rx="55" fill="#ececec" stroke="#000" stroke-width="2.5"/>
<g stroke="#000" stroke-width="3" fill="none">
<polyline points="1446,1376 1446,1391 1382,1391 1382,1551 1442,1551 1442,1577"/>
<polyline points="1442,1563 1383,1563 1383,1731 1442,1731 1442,1740"/>
<line x1="1572" y1="1416" x2="1572" y2="1691"/>
<line x1="1504" y1="1416" x2="1572" y2="1416"/><line x1="1504" y1="1494" x2="1572" y2="1494"/>
<line x1="1504" y1="1589" x2="1572" y2="1589"/><line x1="1504" y1="1672" x2="1572" y2="1672"/>
</g>
<rect x="1388" y="1406" width="116" height="22" rx="4" fill="#c6d9f0"/>
<text x="1446" y="1422" font-size="13">Gate</text>
<rect x="1388" y="1435" width="116" height="42" rx="6" fill="#cfe3c0"/>
<text x="1446" y="1462" font-size="16">SwiGLU</text>
<rect x="1388" y="1484" width="116" height="22" rx="4" fill="#c6d9f0"/>
<text x="1446" y="1500" font-size="13">Scale Shift</text>
<rect x="1388" y="1512" width="116" height="32" rx="5" fill="#c6d9f0"/>
<text x="1446" y="1533" font-size="13">Layer Norm</text>
<rect x="1394" y="1577" width="110" height="22" rx="4" fill="#c6d9f0"/>
<text x="1449" y="1593" font-size="13">Gate</text>
<rect x="1394" y="1605" width="110" height="47" rx="6" fill="#f7cdae"/>
<text x="1449" y="1626" font-size="15">MultiScale</text>
<text x="1449" y="1644" font-size="15">DCN</text>
<rect x="1394" y="1663" width="110" height="21" rx="4" fill="#c6d9f0"/>
<text x="1449" y="1678" font-size="13">Scale Shift</text>
<rect x="1394" y="1691" width="110" height="32" rx="5" fill="#c6d9f0"/>
<text x="1449" y="1712" font-size="13">Layer Norm</text>
<rect x="1518" y="1691" width="114" height="32" rx="5" fill="#c6d9f0"/>
<text x="1575" y="1712" font-size="14">Linear</text>
<rect x="1379" y="1740" width="131" height="25" rx="4" fill="#f6f6f6" stroke="#ddd"/>
<text x="1444" y="1757" font-size="13">Input Features</text>
<rect x="1518" y="1740" width="130" height="25" rx="4" fill="#f6f6f6" stroke="#ddd"/>
<text x="1583" y="1757" font-size="13">Condition</text>
</g>
<text x="1739" y="1362" class="s" font-size="31" fill="#3b4656" textLength="232" lengthAdjust="spacingAndGlyphs">The basic block:</text>
<text x="1746" y="1435" class="t" font-size="30" fill="#000" textLength="490" lengthAdjust="spacingAndGlyphs"><tspan font-weight="bold">x</tspan><tspan font-size="20" dy="6">1</tspan><tspan dy="-6"> = </tspan><tspan font-weight="bold">x</tspan> + AdaLN(<tspan font-weight="bold">y</tspan>, <tspan font-weight="bold">t</tspan>, MultiScale-DCN(<tspan font-weight="bold">x</tspan>)),</text>
<text x="1746" y="1472" class="t" font-size="30" fill="#000" textLength="439" lengthAdjust="spacingAndGlyphs"><tspan font-weight="bold">x</tspan><tspan font-size="20" dy="6">2</tspan><tspan dy="-6"> = </tspan><tspan font-weight="bold">x</tspan><tspan font-size="20" dy="6">1</tspan><tspan dy="-6"> + AdaLN(</tspan><tspan font-weight="bold">y</tspan>, <tspan font-weight="bold">t</tspan>,  SwiGLU(<tspan font-weight="bold">x</tspan><tspan font-size="20" dy="6">1</tspan><tspan dy="-6">)).</tspan></text>
<text x="1739" y="1546" class="s" font-size="31" fill="#3b4656" textLength="378" lengthAdjust="spacingAndGlyphs">Training with rectified flow:</text>
<text x="1746" y="1601" class="t" font-size="32" fill="#000" font-style="italic" textLength="244" lengthAdjust="spacingAndGlyphs">x<tspan font-size="21" dy="7">t</tspan><tspan dy="-7" font-style="normal"> = </tspan>tx<tspan font-style="normal"> + (1 − </tspan>t<tspan font-style="normal">)</tspan>ε.</text>
<text x="1746" y="1663" class="t" font-size="32" fill="#000" font-style="italic" textLength="207" lengthAdjust="spacingAndGlyphs">v<tspan font-size="21" dy="7">t</tspan><tspan dy="-7" font-style="normal">(</tspan>x<tspan font-size="21" dy="7">t</tspan><tspan dy="-7" font-style="normal">) = </tspan>x<tspan font-style="normal"> − </tspan>ε.</text>
<g class="t" fill="#000">
<text x="1746" y="1756" font-size="32" font-style="italic">L<tspan font-size="21" dy="7">v</tspan><tspan dy="-7" font-style="normal"> =</tspan></text>
<text x="1808" y="1764" font-size="52">∫</text>
<text x="1832" y="1722" font-size="19">1</text>
<text x="1826" y="1784" font-size="19">0</text>
<text x="1846" y="1756" font-size="30" textLength="327" lengthAdjust="spacingAndGlyphs"><tspan font-weight="bold">E</tspan>[|| <tspan font-style="italic">v</tspan><tspan font-size="20" dy="6" font-style="italic">θ</tspan><tspan dy="-6">(</tspan><tspan font-style="italic">x</tspan><tspan font-size="20" dy="6" font-style="italic">t</tspan><tspan dy="-6">, </tspan><tspan font-style="italic">t</tspan>) − <tspan font-style="italic">v</tspan><tspan font-size="20" dy="6" font-style="italic">t</tspan><tspan dy="-6">(</tspan><tspan font-style="italic">x</tspan><tspan font-size="20" dy="6" font-style="italic">t</tspan><tspan dy="-6">) ||</tspan><tspan font-size="20" dy="-12">2</tspan><tspan dy="12">]</tspan><tspan font-style="italic">dt</tspan>.</text>
</g>

<!-- ===== SAMPLING ===== -->
<text x="1044" y="1878" class="s" font-size="45" fill="#000" textLength="762" lengthAdjust="spacingAndGlyphs">Method-Sampling Arbitrary Resolution</text>
<text x="1050" y="1966" class="s" font-size="31" fill="#3b4656" textLength="266" lengthAdjust="spacingAndGlyphs">Smax Adjustment :</text>
<text x="1050" y="2009" class="s" font-size="31" fill="#3b4656" textLength="605" lengthAdjust="spacingAndGlyphs">Adjust Smax with corresponding resolution</text>
<g class="t" fill="#000">
<text x="1741" y="1956" font-size="26" textLength="397" lengthAdjust="spacingAndGlyphs"><tspan font-style="italic">s</tspan><tspan font-style="italic" font-size="17" dy="-11">g</tspan><tspan font-style="italic" font-size="17" dx="-8" dy="17">h</tspan><tspan dy="-6">(</tspan><tspan font-weight="bold">x</tspan>) = sigmoid(<tspan font-weight="bold">W</tspan><tspan font-style="italic" font-size="17" dy="-11">T</tspan><tspan font-style="italic" font-size="17" dx="-9" dy="17">s</tspan><tspan dy="-6" font-weight="bold"> x</tspan> + <tspan font-style="italic">s</tspan><tspan font-style="italic" font-size="17" dy="-11">g</tspan><tspan font-size="17" dx="-8" dy="17">0</tspan><tspan dy="-6">) · </tspan><tspan font-style="italic">S</tspan><tspan font-size="17" dy="5">max</tspan><tspan dy="-5"> ·</tspan></text>
<text x="2171" y="1936" font-size="24" text-anchor="middle"><tspan font-style="italic">H</tspan><tspan font-size="16" dy="5">test</tspan></text>
<line x1="2143" y1="1945" x2="2200" y2="1945" stroke="#000" stroke-width="1.3"/>
<text x="2171" y="1970" font-size="24" text-anchor="middle"><tspan font-style="italic">H</tspan><tspan font-size="16" dy="5">train</tspan></text>
<text x="2203" y="1956" font-size="26">,</text>
<text x="1741" y="2016" font-size="26" textLength="397" lengthAdjust="spacingAndGlyphs"><tspan font-style="italic">s</tspan><tspan font-style="italic" font-size="17" dy="-11">g</tspan><tspan font-style="italic" font-size="17" dx="-8" dy="17">w</tspan><tspan dy="-6">(</tspan><tspan font-weight="bold">x</tspan>) = sigmoid(<tspan font-weight="bold">W</tspan><tspan font-style="italic" font-size="17" dy="-11">T</tspan><tspan font-style="italic" font-size="17" dx="-9" dy="17">s</tspan><tspan dy="-6" font-weight="bold"> x</tspan> + <tspan font-style="italic">s</tspan><tspan font-style="italic" font-size="17" dy="-11">g</tspan><tspan font-size="17" dx="-8" dy="17">0</tspan><tspan dy="-6">) · </tspan><tspan font-style="italic">S</tspan><tspan font-size="17" dy="5">max</tspan><tspan dy="-5"> ·</tspan></text>
<text x="2171" y="1998" font-size="24" text-anchor="middle"><tspan font-style="italic">W</tspan><tspan font-size="16" dy="5">test</tspan></text>
<line x1="2143" y1="2007" x2="2200" y2="2007" stroke="#000" stroke-width="1.3"/>
<text x="2171" y="2032" font-size="24" text-anchor="middle"><tspan font-style="italic">W</tspan><tspan font-size="16" dy="5">train</tspan></text>
<text x="2203" y="2016" font-size="26">.</text>
</g>

<!-- ===== TABLE 1 ===== -->
<g class="t" font-size="23.5" fill="#000">
<line x1="2296" y1="293" x2="3136" y2="293" stroke="#000" stroke-width="2.5"/>
<line x1="2296" y1="334" x2="3136" y2="334" stroke="#000" stroke-width="1.5"/>
<line x1="2296" y1="433" x2="3136" y2="433" stroke="#000" stroke-width="1.5"/>
<line x1="2296" y1="559" x2="3136" y2="559" stroke="#000" stroke-width="1.5"/>
<line x1="2296" y1="654" x2="3136" y2="654" stroke="#000" stroke-width="1.5"/>
<line x1="2296" y1="750" x2="3136" y2="750" stroke="#000" stroke-width="2.5"/>
<text x="2303" y="323">Model</text><text x="2526" y="323">FLOPs (G)</text><text x="2668" y="323">Params (M)</text><text x="2804" y="323">Latency(ms)</text><text x="2939" y="323">FID↓</text><text x="3003" y="323">sFID↓</text><text x="3087" y="323">IS↑</text>
<g>
<text x="2303" y="364">SiT-S/2</text><text x="2526" y="364">6.06</text><text x="2668" y="364">33</text><text x="2864" y="364" text-anchor="middle">0.026</text><text x="2965" y="364" text-anchor="middle">57.64</text><text x="3034" y="364" text-anchor="middle">9.05</text><text x="3103" y="364" text-anchor="middle">24.78</text>
<text x="2303" y="393">SiT-S/2 <tspan font-size="15" dy="-9">†</tspan></text><text x="2526" y="393">6.06</text><text x="2668" y="393">33</text><text x="2864" y="393" text-anchor="middle">0.026</text><text x="2965" y="393" text-anchor="middle">57.9</text><text x="3034" y="393" text-anchor="middle" font-weight="bold">8.72</text><text x="3103" y="393" text-anchor="middle">24.64</text>
<text x="2303" y="421" font-weight="bold">FlowDCN-S/2</text><text x="2526" y="421">4.36 (<tspan fill="#2f9a4c">-28%</tspan>)</text><text x="2668" y="421">30.3 (<tspan fill="#2f9a4c">-8.1%</tspan>)</text><text x="2864" y="421" text-anchor="middle">0.027</text><text x="2965" y="421" text-anchor="middle" font-weight="bold">54.6</text><text x="3034" y="421" text-anchor="middle">8.8</text><text x="3103" y="421" text-anchor="middle" font-weight="bold">26.4</text>
<text x="2303" y="462">SiT-B/2</text><text x="2526" y="462">23.01</text><text x="2668" y="462">130</text><text x="2864" y="462" text-anchor="middle">0.084</text><text x="2965" y="462" text-anchor="middle">33.5</text><text x="3034" y="462" text-anchor="middle">6.46</text><text x="3103" y="462" text-anchor="middle">43.71</text>
<text x="2303" y="491">SiT-B/2 <tspan font-size="15" dy="-9">†</tspan></text><text x="2526" y="491">23.01</text><text x="2668" y="491">130</text><text x="2864" y="491" text-anchor="middle">0.084</text><text x="2965" y="491" text-anchor="middle">37.3</text><text x="3034" y="491" text-anchor="middle">6.55</text><text x="3103" y="491" text-anchor="middle">40.6</text>
<text x="2303" y="519" font-weight="bold">FlowDCN-B/2</text><text x="2526" y="519">17.87 (<tspan fill="#2f9a4c">-22%</tspan>)</text><text x="2668" y="519">120 (<tspan fill="#2f9a4c">-7.6%</tspan>)</text><text x="2864" y="519" text-anchor="middle">0.076</text><text x="2965" y="519" text-anchor="middle" font-weight="bold">28.5</text><text x="3034" y="519" text-anchor="middle" font-weight="bold">6.09</text><text x="3103" y="519" text-anchor="middle" font-weight="bold">51</text>
<g fill="#999"><text x="2303" y="546">w/o RMS &amp; SwiGLU</text><text x="2526" y="546"><tspan fill="#222">17.88</tspan> (-22%)</text><text x="2668" y="546">120 (-7.6%)</text><text x="2864" y="546" text-anchor="middle">0.072</text><text x="2965" y="546" text-anchor="middle">29.1</text><text x="3034" y="546" text-anchor="middle">6.13</text><text x="3103" y="546" text-anchor="middle">50.4</text></g>
<text x="2303" y="586">DiT-L/2</text><text x="2526" y="586">80.71</text><text x="2668" y="586">458</text><text x="2864" y="586" text-anchor="middle">0.291</text><text x="2965" y="586" text-anchor="middle">23.3</text><text x="3034" y="586" text-anchor="middle">-</text><text x="3103" y="586" text-anchor="middle">-</text>
<text x="2303" y="614">SiT-L/2</text><text x="2526" y="614">80.71</text><text x="2668" y="614">458</text><text x="2864" y="614" text-anchor="middle">0.291</text><text x="2965" y="614" text-anchor="middle">18.8</text><text x="3034" y="614" text-anchor="middle">5.29</text><text x="3103" y="614" text-anchor="middle">72.02</text>
<text x="2303" y="642" font-weight="bold">FlowDCN-L/2</text><text x="2526" y="642">63.51 (<tspan fill="#2f9a4c">-21%</tspan>)</text><text x="2668" y="642">421 (<tspan fill="#2f9a4c">-8.0%</tspan>)</text><text x="2864" y="642" text-anchor="middle">0.254</text><text x="2965" y="642" text-anchor="middle" font-weight="bold">13.8</text><text x="3034" y="642" text-anchor="middle" font-weight="bold">4.69</text><text x="3103" y="642" text-anchor="middle" font-weight="bold">85</text>
<text x="2303" y="683">DiT-XL/2</text><text x="2526" y="683">118.64</text><text x="2668" y="683">675</text><text x="2864" y="683" text-anchor="middle">0.387</text><text x="2965" y="683" text-anchor="middle">19.5</text><text x="3034" y="683" text-anchor="middle">-</text><text x="3103" y="683" text-anchor="middle">-</text>
<text x="2303" y="709">SiT-XL/2</text><text x="2526" y="709">118.64</text><text x="2668" y="709">675</text><text x="2864" y="709" text-anchor="middle">0.387</text><text x="2965" y="709" text-anchor="middle">17.2</text><text x="3034" y="709" text-anchor="middle">5.07</text><text x="3103" y="709" text-anchor="middle">76.52</text>
<text x="2303" y="737" font-weight="bold">FlowDCN-XL/2</text><text x="2526" y="737">93.24 (<tspan fill="#2f9a4c">-21%</tspan>)</text><text x="2668" y="737">618 (<tspan fill="#2f9a4c">-8.4%</tspan>)</text><text x="2864" y="737" text-anchor="middle">0.303</text><text x="2965" y="737" text-anchor="middle" font-weight="bold">11.3</text><text x="3034" y="737" text-anchor="middle" font-weight="bold">4.85</text><text x="3103" y="737" text-anchor="middle" font-weight="bold">97</text>
</g>
</g>

<!-- ===== TABLE 2 ===== -->
<g class="t" font-size="19" fill="#000">
<g stroke="#000">
<line x1="2300" y1="791" x2="3132" y2="791" stroke-width="3"/>
<line x1="2300" y1="823" x2="3132" y2="823" stroke-width="1.5"/>
<line x1="2300" y1="876" x2="3132" y2="876" stroke-width="2"/>
<line x1="2300" y1="948" x2="3132" y2="948" stroke-width="1.5"/>
<line x1="2300" y1="1043" x2="3132" y2="1043" stroke-width="2"/>
<line x1="2300" y1="1048" x2="3132" y2="1048" stroke-width="2"/>
<line x1="2300" y1="1081" x2="3132" y2="1081" stroke-width="1.5"/>
<line x1="2300" y1="1155" x2="3132" y2="1155" stroke-width="1.5"/>
<line x1="2300" y1="1337" x2="3132" y2="1337" stroke-width="2.5"/>
<line x1="2578" y1="829" x2="2578" y2="1040" stroke-width="1"/>
<line x1="2870" y1="829" x2="2870" y2="1040" stroke-width="1"/>
<line x1="2578" y1="1051" x2="2578" y2="1335" stroke-width="1"/>
<line x1="2870" y1="1086" x2="2870" y2="1335" stroke-width="1"/>
</g>
<text x="2303" y="813" font-weight="bold">ImageNet 256×256 Benchmark</text>
<text x="2303" y="855">Generative Models</text>
<g text-anchor="middle"><text x="2620" y="845">Long</text><text x="2620" y="866">Residuals</text><text x="2709" y="845">Total</text><text x="2709" y="866">Images(M)</text><text x="2813" y="845">Total</text><text x="2813" y="866">GFLOPs</text></g>
<text x="2874" y="845">FID↓</text><text x="2929" y="845">sFID↓</text><text x="3003" y="845">IS↑</text><text x="3055" y="845">P↑</text><text x="3096" y="845">R↑</text>
<text x="2303" y="1071">Classifier-free Guidance</text>
<g text-anchor="middle">
<text x="2620" y="898">✓</text><text x="2620" y="921">✓</text><text x="2620" y="943">✓</text>
<text x="2620" y="966">✗</text><text x="2620" y="988">✗</text><text x="2620" y="1010">✗</text><text x="2620" y="1032">✗</text>
<text x="2620" y="1104">✓</text><text x="2620" y="1126">✓</text><text x="2620" y="1148">✓</text>
<text x="2620" y="1172">✗</text><text x="2620" y="1194">✗</text><text x="2620" y="1216">✗</text><text x="2620" y="1238">✗</text><text x="2620" y="1261">✗</text><text x="2620" y="1283">✗</text><text x="2620" y="1305">✗</text><text x="2620" y="1328">✗</text>
</g>
<text x="2303" y="898">ADM-U [<tspan fill="#4ccc2c">10</tspan>]</text>
<text x="2303" y="921">CDM [<tspan fill="#4ccc2c">39</tspan>]</text>
<text x="2303" y="943">LDM-4 [<tspan fill="#4ccc2c">40</tspan>]</text>
<text x="2303" y="966">DiT-XL/2 [<tspan fill="#4ccc2c">12</tspan>]</text>
<text x="2303" y="988">DiffusionSSM-XL[<tspan fill="#4ccc2c">16</tspan>]</text>
<text x="2303" y="1010">SiT-XL/2[<tspan fill="#4ccc2c">23</tspan>]</text>
<text x="2303" y="1032" font-weight="bold">FlowDCN-XL/2</text>
<text x="2303" y="1104">ADM-U[<tspan fill="#4ccc2c">10</tspan>]</text>
<text x="2303" y="1126">LDM-4 [<tspan fill="#4ccc2c">40</tspan>]</text>
<text x="2303" y="1148">U-ViT-H/2  [<tspan fill="#4ccc2c">11</tspan>]</text>
<text x="2303" y="1172">DiT-XL/2 [<tspan fill="#4ccc2c">12</tspan>]</text>
<text x="2303" y="1194">DiffusionSSM-XL [<tspan fill="#4ccc2c">16</tspan>]</text>
<text x="2303" y="1216">SiT-XL/2[<tspan fill="#4ccc2c">23</tspan>]</text>
<text x="2303" y="1238">FiT-XL/2[<tspan fill="#4ccc2c">18</tspan>]</text>
<text x="2303" y="1261"><tspan font-weight="bold">FlowDCN-XL/2</tspan> (cfg=1.375; ODE)</text>
<text x="2303" y="1283"><tspan font-weight="bold">FlowDCN-XL/2</tspan> (cfg=1.375; SDE)</text>
<text x="2303" y="1305"><tspan font-weight="bold">FlowDCN-XL/2</tspan> (cfg=1.375; ODE)</text>
<text x="2303" y="1328"><tspan font-weight="bold">FlowDCN-XL/2</tspan> (cfg=1.375; SDE)</text>
<g text-anchor="middle">
<text x="2709" y="898">507</text><text x="2709" y="921">-</text><text x="2709" y="943">213</text><text x="2709" y="966">1792</text><text x="2709" y="988">660</text><text x="2709" y="1010">1792</text><text x="2709" y="1032" font-weight="bold">384</text>
<text x="2709" y="1104">507</text><text x="2709" y="1126">213</text><text x="2709" y="1148">512</text><text x="2709" y="1172">1792</text><text x="2709" y="1194">660</text><text x="2709" y="1216">1792</text><text x="2709" y="1238">450</text>
<text x="2709" y="1261" font-weight="bold">384</text><text x="2709" y="1283" font-weight="bold">384</text><text x="2709" y="1305" font-weight="bold">486</text><text x="2709" y="1328" font-weight="bold">486</text>
<text x="2813" y="898">3.76 × 10<tspan font-size="12" dy="-7">11</tspan></text>
<text x="2813" y="921">-</text>
<text x="2813" y="943">2.22 × 10<tspan font-size="12" dy="-7">10</tspan></text>
<text x="2813" y="966">2.13 × 10<tspan font-size="12" dy="-7">11</tspan></text>
<text x="2813" y="988">1.85 × 10<tspan font-size="12" dy="-7">11</tspan></text>
<text x="2813" y="1010">2.13 × 10<tspan font-size="12" dy="-7">11</tspan></text>
<text x="2813" y="1032" font-weight="bold">3.57 × 10<tspan font-size="12" dy="-7">10</tspan></text>
<text x="2813" y="1104">3.76 × 10<tspan font-size="12" dy="-7">12</tspan></text>
<text x="2813" y="1126">2.22 × 10<tspan font-size="12" dy="-7">10</tspan></text>
<text x="2813" y="1148">6.81 × 10<tspan font-size="12" dy="-7">10</tspan></text>
<text x="2813" y="1172">2.13 × 10<tspan font-size="12" dy="-7">11</tspan></text>
<text x="2813" y="1194">1.85 × 10<tspan font-size="12" dy="-7">11</tspan></text>
<text x="2813" y="1216">2.13 × 10<tspan font-size="12" dy="-7">11</tspan></text>
<text x="2813" y="1238">-</text>
<text x="2813" y="1261" font-weight="bold">3.57 × 10<tspan font-size="12" dy="-7">10</tspan></text>
<text x="2813" y="1283" font-weight="bold">3.57 × 10<tspan font-size="12" dy="-7">10</tspan></text>
<text x="2813" y="1305" font-weight="bold">4.52 × 10<tspan font-size="12" dy="-7">10</tspan></text>
<text x="2813" y="1328" font-weight="bold">4.52 × 10<tspan font-size="12" dy="-7">10</tspan></text>
<text x="2897" y="898">7.49</text><text x="2897" y="921">4.88</text><text x="2897" y="943">10.56</text><text x="2897" y="966">9.62</text><text x="2897" y="988">9.07</text><text x="2897" y="1010">8.61</text><text x="2897" y="1032" font-weight="bold">8.36</text>
<text x="2897" y="1104">3.60</text><text x="2897" y="1126">3.95</text><text x="2897" y="1148">2.29</text><text x="2897" y="1172">2.27</text><text x="2897" y="1194">2.28</text><text x="2897" y="1216">2.06</text><text x="2897" y="1238">4.27</text><text x="2897" y="1261">2.13</text><text x="2897" y="1283">2.08</text><text x="2897" y="1305" font-weight="bold">2.01</text><text x="2897" y="1328" font-weight="bold">2.00</text>
<text x="2955" y="898">5.13</text><text x="2955" y="921">-</text><text x="2955" y="943">-</text><text x="2955" y="966">6.85</text><text x="2955" y="988">5.52</text><text x="2955" y="1010">6.32</text><text x="2955" y="1032" font-weight="bold">5.39</text>
<text x="2955" y="1104">-</text><text x="2955" y="1126">-</text><text x="2955" y="1148">-</text><text x="2955" y="1172">4.60</text><text x="2955" y="1194">4.49</text><text x="2955" y="1216">4.50</text><text x="2955" y="1238">9.99</text><text x="2955" y="1261" font-weight="bold">4.30</text><text x="2955" y="1283" font-weight="bold">4.38</text><text x="2955" y="1305" font-weight="bold">4.33</text><text x="2955" y="1328" font-weight="bold">4.37</text>
<text x="3017" y="898">127.49</text><text x="3017" y="921">158.71</text><text x="3017" y="943">103.49</text><text x="3017" y="966">121.50</text><text x="3017" y="988">118.32</text><text x="3017" y="1010" font-weight="bold">131.65</text><text x="3017" y="1032">122.5</text>
<text x="3017" y="1104">247.67</text><text x="3017" y="1126">178.22</text><text x="3017" y="1148">247.67</text><text x="3017" y="1172" font-weight="bold">278.24</text><text x="3017" y="1194">259.13</text><text x="3017" y="1216">270.27</text><text x="3017" y="1238">249.72</text><text x="3017" y="1261">243.46</text><text x="3017" y="1283">257.53</text><text x="3017" y="1305">254.36</text><text x="3017" y="1328">263.16</text>
<text x="3069" y="898">0.72</text><text x="3069" y="921">-</text><text x="3069" y="943">0.71</text><text x="3069" y="966">0.67</text><text x="3069" y="988">0.69</text><text x="3069" y="1010">0.68</text><text x="3069" y="1032" font-weight="bold">0.69</text>
<text x="3069" y="1104">0.87</text><text x="3069" y="1126">0.81</text><text x="3069" y="1148">0.87</text><text x="3069" y="1172">0.83</text><text x="3069" y="1194" font-weight="bold">0.86</text><text x="3069" y="1216">0.82</text><text x="3069" y="1238">0.84</text><text x="3069" y="1261">0.81</text><text x="3069" y="1283">0.82</text><text x="3069" y="1305">0.81</text><text x="3069" y="1328">0.82</text>
<text x="3110" y="898">0.63</text><text x="3110" y="921">-</text><text x="3110" y="943">0.62</text><text x="3110" y="966" font-weight="bold">0.67</text><text x="3110" y="988">0.64</text><text x="3110" y="1010" font-weight="bold">0.67</text><text x="3110" y="1032">0.65</text>
<text x="3110" y="1104">0.48</text><text x="3110" y="1126">0.55</text><text x="3110" y="1148">0.48</text><text x="3110" y="1172">0.57</text><text x="3110" y="1194">0.56</text><text x="3110" y="1216" font-weight="bold">0.59</text><text x="3110" y="1238">0.51</text><text x="3110" y="1261">0.57</text><text x="3110" y="1283">0.57</text><text x="3110" y="1305">0.58</text><text x="3110" y="1328">0.58</text>
</g>
</g>

<!-- ===== TABLE 3 ===== -->
<g class="t" font-size="21" fill="#000">
<g stroke="#000">
<line x1="2296" y1="1387" x2="3111" y2="1387" stroke-width="2.5"/>
<line x1="2296" y1="1419" x2="3111" y2="1419" stroke-width="1.5"/>
<line x1="2296" y1="1455" x2="3111" y2="1455" stroke-width="2"/>
<line x1="2296" y1="1504" x2="3111" y2="1504" stroke-width="2"/>
<line x1="2296" y1="1728" x2="3111" y2="1728" stroke-width="2.5"/>
</g>
<text x="2311" y="1412" font-weight="bold">Class-Conditional ImageNet 512×512</text>
<text x="2311" y="1444">Model</text>
<g text-anchor="middle"><text x="2693" y="1444">FID↓</text><text x="2773" y="1444">sFID↓</text><text x="2857" y="1444">IS↑</text><text x="2959" y="1444">Precision↑</text><text x="3063" y="1444">Recall↑</text></g>
<text x="2311" y="1474">BigGAN-deep [<tspan fill="#4ccc2c">6</tspan>]</text>
<text x="2311" y="1498">StyleGAN-XL [<tspan fill="#4ccc2c">7</tspan>]</text>
<text x="2311" y="1530">ADM [<tspan fill="#4ccc2c">10</tspan>]</text>
<text x="2311" y="1553">ADM-U [<tspan fill="#4ccc2c">10</tspan>]</text>
<text x="2311" y="1576">ADM-G [<tspan fill="#4ccc2c">10</tspan>]</text>
<text x="2311" y="1600">ADM-G, ADM-U</text>
<text x="2311" y="1624">DiT-XL/2 [<tspan fill="#4ccc2c">12</tspan>]</text>
<text x="2311" y="1646">DiT-XL/2-G [<tspan fill="#4ccc2c">12</tspan>] (cfg=1.50)</text>
<text x="2311" y="1670">SiT-XL/2-G  [<tspan fill="#4ccc2c">23</tspan>] (cfg=1.50)</text>
<text x="2311" y="1693" font-weight="bold">FlowDCN-XL/2(cfg=1.375, ODE-50)</text>
<text x="2311" y="1717" font-weight="bold">FlowDCN-XL/2(cfg=1.375, SDE-250)</text>
<g text-anchor="middle">
<text x="2693" y="1474">8.43</text><text x="2773" y="1474">8.13</text><text x="2857" y="1474">177.90</text><text x="2959" y="1474">0.88</text><text x="3063" y="1474">0.29</text>
<text x="2693" y="1498">2.41</text><text x="2773" y="1498">4.06</text><text x="2857" y="1498">267.75</text><text x="2959" y="1498">0.77</text><text x="3063" y="1498">0.52</text>
<text x="2693" y="1530">23.24</text><text x="2773" y="1530">10.19</text><text x="2857" y="1530">58.06</text><text x="2959" y="1530">0.73</text><text x="3063" y="1530">0.60</text>
<text x="2693" y="1553">9.96</text><text x="2773" y="1553">5.62</text><text x="2857" y="1553">121.78</text><text x="2959" y="1553">0.75</text><text x="3063" y="1553">0.64</text>
<text x="2693" y="1576">7.72</text><text x="2773" y="1576">6.57</text><text x="2857" y="1576">172.71</text><text x="2959" y="1576">0.87</text><text x="3063" y="1576">0.42</text>
<text x="2693" y="1600">3.85</text><text x="2773" y="1600">5.86</text><text x="2857" y="1600">221.72</text><text x="2959" y="1600">0.84</text><text x="3063" y="1600">0.53</text>
<text x="2693" y="1624">12.03</text><text x="2773" y="1624">7.12</text><text x="2857" y="1624">105.25</text><text x="2959" y="1624">0.75</text><text x="3063" y="1624">0.64</text>
<text x="2693" y="1646">3.04</text><text x="2773" y="1646">5.02</text><text x="2857" y="1646">240.82</text><text x="2959" y="1646">0.84</text><text x="3063" y="1646">0.54</text>
<text x="2693" y="1670">2.62</text><text x="2773" y="1670">4.18</text><text x="2857" y="1670">252.21</text><text x="2959" y="1670">0.84</text><text x="3063" y="1670">0.57</text>
<text x="2693" y="1693">2.76</text><text x="2773" y="1693">5.29</text><text x="2857" y="1693">240.6</text><text x="2959" y="1693">0.83</text><text x="3063" y="1693">0.51</text>
<text x="2693" y="1717" font-weight="bold">2.44</text><text x="2773" y="1717" font-weight="bold">4.53</text><text x="2857" y="1717" font-weight="bold">252.8</text><text x="2959" y="1717">0.84</text><text x="3063" y="1717">0.54</text>
</g>
</g>

<!-- ===== TABLE 4 ===== -->
<g class="t" font-size="16" fill="#000">
<g stroke="#111">
<line x1="2296" y1="1768" x2="3164" y2="1768" stroke-width="2.5"/>
<line x1="2296" y1="1813" x2="3164" y2="1813" stroke-width="1.5" stroke="#555"/>
<line x1="2296" y1="1875" x2="3164" y2="1875" stroke-width="2" stroke="#555"/>
<line x1="2296" y1="1937" x2="3164" y2="1937" stroke-width="2" stroke="#555"/>
<line x1="2296" y1="1999" x2="3164" y2="1999" stroke-width="2.5"/>
<g stroke-width="1" stroke="#444"><line x1="2456" y1="1773" x2="2456" y2="1996"/><line x1="2631" y1="1773" x2="2631" y2="1996"/><line x1="2809" y1="1773" x2="2809" y2="1996"/><line x1="2987" y1="1773" x2="2987" y2="1996"/></g>
</g>
<text x="2306" y="1797">Method</text>
<g text-anchor="middle">
<text x="2544" y="1788">256×256 (1:1)</text><text x="2720" y="1788">320×320 (1:1)</text><text x="2897" y="1788">224×448 (1:2)</text><text x="3076" y="1788">160×480 (1:3)</text>
<g font-weight="bold">
<text x="2484" y="1806">FID↓</text><text x="2543" y="1806">sFID↓</text><text x="2604" y="1806">IS↑</text>
<text x="2660" y="1806">FID↓</text><text x="2720" y="1806">sFID↓</text><text x="2781" y="1806">IS↑</text>
<text x="2837" y="1806">FID↓</text><text x="2897" y="1806">sFID↓</text><text x="2958" y="1806">IS↑</text>
<text x="3016" y="1806">FID↓</text><text x="3076" y="1806">sFID↓</text><text x="3136" y="1806">IS↑</text>
</g>
</g>
<text x="2306" y="1831">DiT-B</text><text x="2306" y="1849">DiT-B + EI</text><text x="2306" y="1867">DiT-B + PI</text>
<text x="2306" y="1893">FiT-B</text><text x="2306" y="1911">FiT-B + VisionYaRN</text><text x="2306" y="1928">FiT-B + VisionNTK</text>
<text x="2306" y="1955">FlowDCN-B</text><text x="2306" y="1973">FlowDCN-B (+VAR)</text><text x="2306" y="1991">+ <tspan font-style="italic">S</tspan><tspan font-size="11" dy="3">max</tspan><tspan dy="-3"> Adjust</tspan></text>
<g text-anchor="middle">
<text y="1831"><tspan x="2484">44.83</tspan><tspan x="2543">8.49</tspan><tspan x="2604">32.05</tspan><tspan x="2660">95.47</tspan><tspan x="2720">108.68</tspan><tspan x="2781">18.38</tspan><tspan x="2837">109.1</tspan><tspan x="2897">110.71</tspan><tspan x="2958">14.00</tspan><tspan x="3016">143.8</tspan><tspan x="3076">122.81</tspan><tspan x="3136">8.93</tspan></text>
<text y="1849"><tspan x="2484">44.83</tspan><tspan x="2543">8.49</tspan><tspan x="2604">32.05</tspan><tspan x="2660">81.48</tspan><tspan x="2720">62.25</tspan><tspan x="2781">20.97</tspan><tspan x="2837">133.2</tspan><tspan x="2897">72.53</tspan><tspan x="2958">11.11</tspan><tspan x="3016">160.4</tspan><tspan x="3076">93.91</tspan><tspan x="3136">7.30</tspan></text>
<text y="1867"><tspan x="2484">44.83</tspan><tspan x="2543">8.49</tspan><tspan x="2604">32.05</tspan><tspan x="2660">72.47</tspan><tspan x="2720">54.02</tspan><tspan x="2781">24.15</tspan><tspan x="2837">133.4</tspan><tspan x="2897">70.29</tspan><tspan x="2958">11.73</tspan><tspan x="3016">156.5</tspan><tspan x="3076">93.80</tspan><tspan x="3136">7.80</tspan></text>
<text y="1893"><tspan x="2484">36.36</tspan><tspan x="2543">11.08</tspan><tspan x="2604">40.69</tspan><tspan x="2660">61.35</tspan><tspan x="2720">30.71</tspan><tspan x="2781">31.01</tspan><tspan x="2837">44.67</tspan><tspan x="2897">24.09</tspan><tspan x="2958">37.1</tspan><tspan x="3016">56.81</tspan><tspan x="3076">22.07</tspan><tspan x="3136">25.25</tspan></text>
<text y="1911"><tspan x="2484">36.36</tspan><tspan x="2543">11.08</tspan><tspan x="2604">40.69</tspan><tspan x="2660">44.76</tspan><tspan x="2720">38.04</tspan><tspan x="2781">44.70</tspan><tspan x="2837">41.92</tspan><tspan x="2897">42.79</tspan><tspan x="2958">45.87</tspan><tspan x="3016">62.84</tspan><tspan x="3076">44.82</tspan><tspan x="3136">27.84</tspan></text>
<text y="1928"><tspan x="2484">36.36</tspan><tspan x="2543">11.08</tspan><tspan x="2604">40.69</tspan><tspan x="2660">57.31</tspan><tspan x="2720">31.31</tspan><tspan x="2781">33.97</tspan><tspan x="2837">43.84</tspan><tspan x="2897">26.25</tspan><tspan x="2958">39.22</tspan><tspan x="3016">56.76</tspan><tspan x="3076">24.18</tspan><tspan x="3136">26.40</tspan></text>
<text y="1955"><tspan x="2484">28.5</tspan><tspan x="2543">6.09</tspan><tspan x="2604">51</tspan><tspan x="2660">34.4</tspan><tspan x="2720">27.2</tspan><tspan x="2781">52.2</tspan><tspan x="2837">71.7</tspan><tspan x="2897">62.0</tspan><tspan x="2958">23.7</tspan><tspan x="3016">211</tspan><tspan x="3076">111</tspan><tspan x="3136">5.83</tspan></text>
<text y="1973"><tspan x="2484">23.6</tspan><tspan x="2543">7.72</tspan><tspan x="2604">62.8</tspan><tspan x="2660">29.1</tspan><tspan x="2720">15.8</tspan><tspan x="2781">69.5</tspan><tspan x="2837">31.4</tspan><tspan x="2897">17.0</tspan><tspan x="2958">62.4</tspan><tspan x="3016">44.7</tspan><tspan x="3076">17.8</tspan><tspan x="3136">35.8</tspan></text>
<text y="1991"><tspan x="2484">23.6</tspan><tspan x="2543">7.72</tspan><tspan x="2604">62.8</tspan><tspan x="2660">30.7</tspan><tspan x="2720">19.4</tspan><tspan x="2781">68.5</tspan><tspan x="2837">37.8</tspan><tspan x="2897">22.8</tspan><tspan x="2958">54.4</tspan><tspan x="3016">53.3</tspan><tspan x="3076">22.6</tspan><tspan x="3136">31.5</tspan></text>
</g>
</g>
</svg>
</body></html>
